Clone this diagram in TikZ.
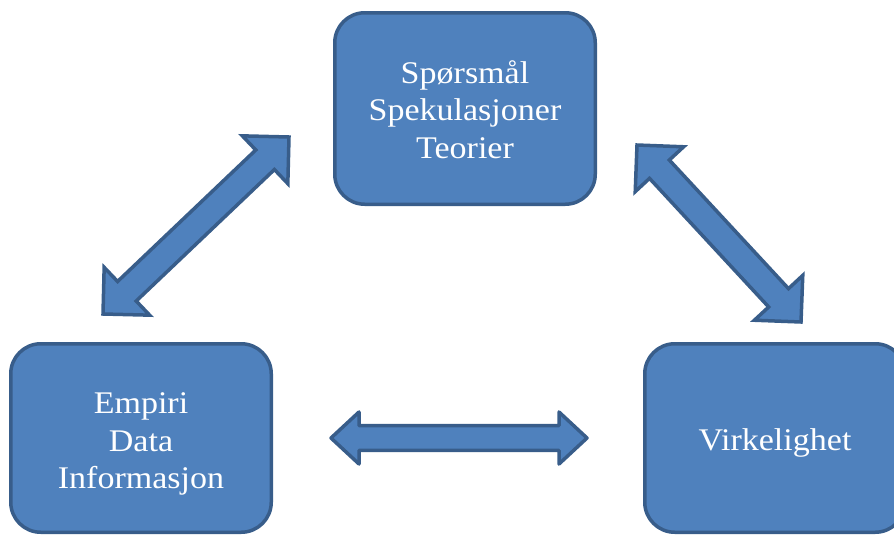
\documentclass[tikz,border=0pt]{standalone}
\usepackage{fontspec}
\setmainfont{Liberation Serif}[FakeStretch=1.08]
\usetikzlibrary{calc}
\definecolor{boxfill}{RGB}{79,129,189}
\definecolor{boxline}{RGB}{56,93,138}
\tikzset{
  box/.style={draw=boxline, fill=boxfill, line width=3.5pt, rounded corners=30pt,
    minimum width=260.5pt, inner sep=0pt},
  boxtext/.style={text=white, align=center,
    font=\fontsize{31.5}{37.5}\selectfont, inner sep=0pt},
  blockarrow/.style={draw=boxline, fill=boxfill, line width=3.5pt}
}
\newcommand\barrowdraw[6]{%
  % #1 style, #2 from, #3 to, #4 head length, #5 head half width, #6 shaft half width
  \draw[#1] (#2)
    -- ($(#2)!#4!(#3)!#5!90:(#3)$)
    -- ($(#2)!#4!(#3)!#6!90:(#3)$)
    -- ($(#3)!#4!(#2)!#6!-90:(#2)$)
    -- ($(#3)!#4!(#2)!#5!-90:(#2)$)
    -- (#3)
    -- ($(#3)!#4!(#2)!#5!90:(#2)$)
    -- ($(#3)!#4!(#2)!#6!90:(#2)$)
    -- ($(#2)!#4!(#3)!#6!-90:(#3)$)
    -- ($(#2)!#4!(#3)!#5!-90:(#3)$)
    -- cycle;}
\begin{document}
\begin{tikzpicture}[x=1pt,y=-1pt]
  \path[use as bounding box, clip] (0,0) rectangle (894,536);
  \node[box, minimum height=191.5pt,
        label={[boxtext, yshift=-1pt]center:Spørsmål\\Spekulasjoner\\Teorier}] (top) at (465,108.5) {};
  \node[box, minimum height=188.5pt,
        label={[boxtext, yshift=-6pt]center:Empiri\\Data\\Informasjon}] (left) at (141,438) {};
  \node[box, minimum height=188.5pt,
        label={[boxtext, yshift=-5pt]center:Virkelighet}] (right) at (775,438) {};
  % arrow end points
  \coordinate (la) at (103,314);
  \coordinate (lb) at (289,137);
  \coordinate (ra) at (637,145);
  \coordinate (rb) at (801,322);
  \coordinate (ha) at (331,438);
  \coordinate (hb) at (587,438);
  \barrowdraw{blockarrow, line join=miter}{la}{lb}{33pt}{33pt}{13.5pt}
  \barrowdraw{blockarrow, line join=miter}{ra}{rb}{33pt}{33pt}{13.5pt}
  \barrowdraw{blockarrow, line join=round}{ha}{hb}{28pt}{26pt}{12.3pt}
\end{tikzpicture}
\end{document}
